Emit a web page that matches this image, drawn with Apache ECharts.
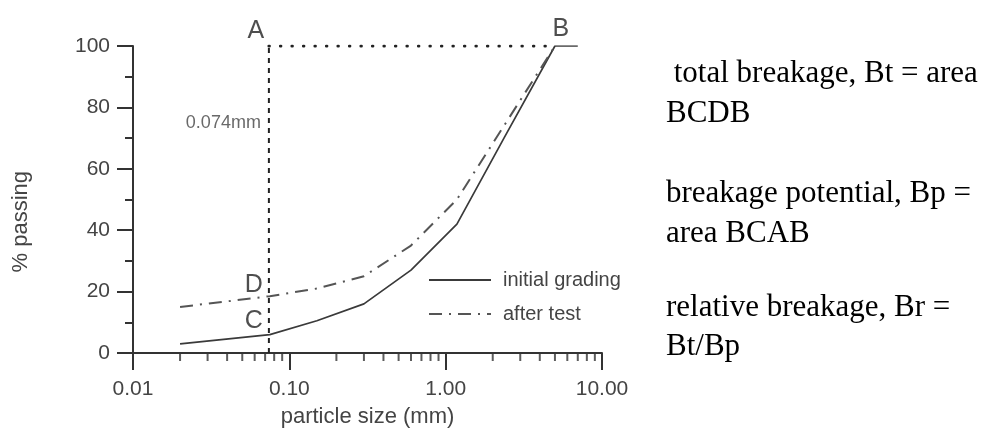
<!DOCTYPE html>
<html>
<head>
<meta charset="utf-8">
<script src="https://cdn.jsdelivr.net/npm/echarts@6/dist/echarts.min.js"></script>
<style>
  html, body { margin: 0; padding: 0; background: #fff; }
  #chart { width: 990px; height: 429px; }
</style>
</head>
<body>
<div id="chart"></div>
<script>
// Grading curves: sieve size (mm) against % passing
const sieveSizes = [0.02, 0.075, 0.15, 0.3, 0.6, 1.18, 2.36, 5, 7];
const initialGrading = [3, 6, 10.5, 16, 27, 42, 70, 100, 100];
const afterTestSizes = [0.02, 0.075, 0.15, 0.3, 0.6, 1.18, 2.36, 5];
const afterTest = [15, 18.5, 21, 25, 35, 50, 74, 100];

// Construction lines: the 0.074 mm cut-off and the 100 % line A-B
const cutoffSize = 0.074;
const cutoffSpan = [0, 100];
const topLineSizes = [0.074, 5];
const topLineValue = 100;

// Point letters and their positions (size, % passing)
const pointNames = ['A', 'B', 'C', 'D'];
const pointSizes = [0.074, 5, 0.074, 0.074];
const pointValues = [100, 100, 6, 18.5];

// Axis ticks
const xMin = 0.01, xMax = 10;
const xMinorTicks = [0.02, 0.03, 0.04, 0.05, 0.06, 0.07, 0.08, 0.09,
                     0.2, 0.3, 0.4, 0.5, 0.6, 0.7, 0.8, 0.9,
                     2, 3, 4, 5, 6, 7, 8, 9];
const yMin = 0, yMax = 100, yStep = 20;

// Definitions printed beside the chart
const notes = [
  ' total breakage, Bt = area', 'BCDB',
  'breakage potential, Bp =', 'area BCAB',
  'relative breakage, Br =', 'Bt/Bp'
];
const noteRows = [74, 114, 194, 234, 308, 347];

const ink = '#333';
const sans = '"Liberation Sans", Arial, sans-serif';

const zip = (xs, ys) => xs.map((x, i) => [x, ys[i]]);

const chart = echarts.init(document.getElementById('chart'), null, { renderer: 'canvas' });

const pointLabelPos = {
  A: { position: 'top', offset: [-13, 2] },
  B: { position: 'top', offset: [6, 0] },
  C: { position: 'left', offset: [-2, -13] },
  D: { position: 'left', offset: [-2, -11] }
};

chart.setOption({
  animation: false,
  backgroundColor: '#fff',
  textStyle: { fontFamily: sans },
  grid: { left: 133, right: 388, top: 46, bottom: 76, containLabel: false, outerBoundsMode: 'none' },
  legend: {
    orient: 'vertical',
    left: 423,
    top: 265,
    itemWidth: 62,
    itemHeight: 14,
    itemGap: 14,
    itemStyle: { opacity: 0, borderWidth: 0 },
    data: ['initial grading', 'after test'],
    textStyle: { fontSize: 20, color: '#444', padding: [0, 0, 0, 7] }
  },
  xAxis: {
    type: 'log',
    logBase: 10,
    min: xMin,
    max: xMax,
    name: 'particle size (mm)',
    nameLocation: 'middle',
    nameGap: 53,
    nameTextStyle: { fontSize: 22, color: '#444' },
    axisLine: { lineStyle: { color: ink, width: 2 } },
    axisTick: { inside: false, length: 17, lineStyle: { color: ink, width: 2 } },
    axisLabel: {
      fontSize: 21, color: '#444', margin: 26,
      formatter: v => Number(v).toFixed(2)
    },
    splitLine: { show: false },
    minorTick: { show: false }
  },
  yAxis: {
    type: 'value',
    min: yMin,
    max: yMax,
    interval: yStep,
    axisLine: { show: true, lineStyle: { color: ink, width: 2 } },
    axisTick: { show: true, inside: false, length: 16, lineStyle: { color: ink, width: 2 } },
    minorTick: { show: true, splitNumber: 2, length: 8, lineStyle: { color: ink, width: 2 } },
    axisLabel: { fontSize: 21, color: '#444', margin: 23 },
    splitLine: { show: false },
    minorSplitLine: { show: false }
  },
  graphic: [
    {
      type: 'text',
      left: 10,
      top: 171,
      style: { text: '% passing', font: '22px ' + sans, fill: '#444' },
      rotation: Math.PI / 2
    }
  ].concat(notes.map((t, i) => ({
    type: 'text',
    x: 666,
    y: noteRows[i],
    style: {
      text: t,
      fontFamily: '"Liberation Serif", "Times New Roman", serif',
      fontSize: 31,
      fill: '#000',
      verticalAlign: 'middle',
      align: 'left'
    }
  }))),
  series: [
    {
      name: 'initial grading',
      type: 'line',
      data: zip(sieveSizes, initialGrading),
      symbol: 'none',
      lineStyle: { color: '#3a3a3a', width: 1.7 },
      itemStyle: { color: '#3a3a3a' },
      z: 3
    },
    {
      name: 'after test',
      type: 'line',
      data: zip(afterTestSizes, afterTest),
      symbol: 'none',
      lineStyle: { color: '#555', width: 2, type: [13, 7, 2, 7] },
      itemStyle: { color: '#555' },
      z: 3
    },
    {
      name: 'cutoff',
      type: 'line',
      data: cutoffSpan.map(v => [cutoffSize, v]),
      symbol: 'none',
      silent: true,
      lineStyle: { color: '#222', width: 2, type: [5, 5] },
      z: 2
    },
    {
      name: 'top',
      type: 'line',
      data: topLineSizes.map(s => [s, topLineValue]),
      symbol: 'none',
      silent: true,
      lineStyle: { color: '#222', width: 3, type: [0.5, 11], cap: 'round' },
      z: 2
    },
    {
      name: 'points',
      type: 'scatter',
      data: pointNames.map((n, i) => ({
        value: [pointSizes[i], pointValues[i]],
        label: Object.assign({ show: true, formatter: n }, pointLabelPos[n])
      })),
      symbolSize: 0,
      silent: true,
      clip: false,
      label: { fontSize: 25, color: '#222', distance: 4 },
      z: 4
    },
    {
      name: 'cutoff label',
      type: 'scatter',
      data: [{ value: [cutoffSize, 75] }],
      symbolSize: 0,
      silent: true,
      label: { show: true, position: 'left', distance: 8, formatter: '0.074mm', fontSize: 18, color: '#444' },
      z: 4
    },
    {
      name: 'x minor ticks',
      type: 'scatter',
      data: xMinorTicks.map(s => [s, yMin]),
      symbol: 'rect',
      symbolSize: [2, 8],
      symbolOffset: [0, 4],
      itemStyle: { color: ink },
      silent: true,
      clip: false,
      z: 5
    }
  ]
});
</script>
</body>
</html>
